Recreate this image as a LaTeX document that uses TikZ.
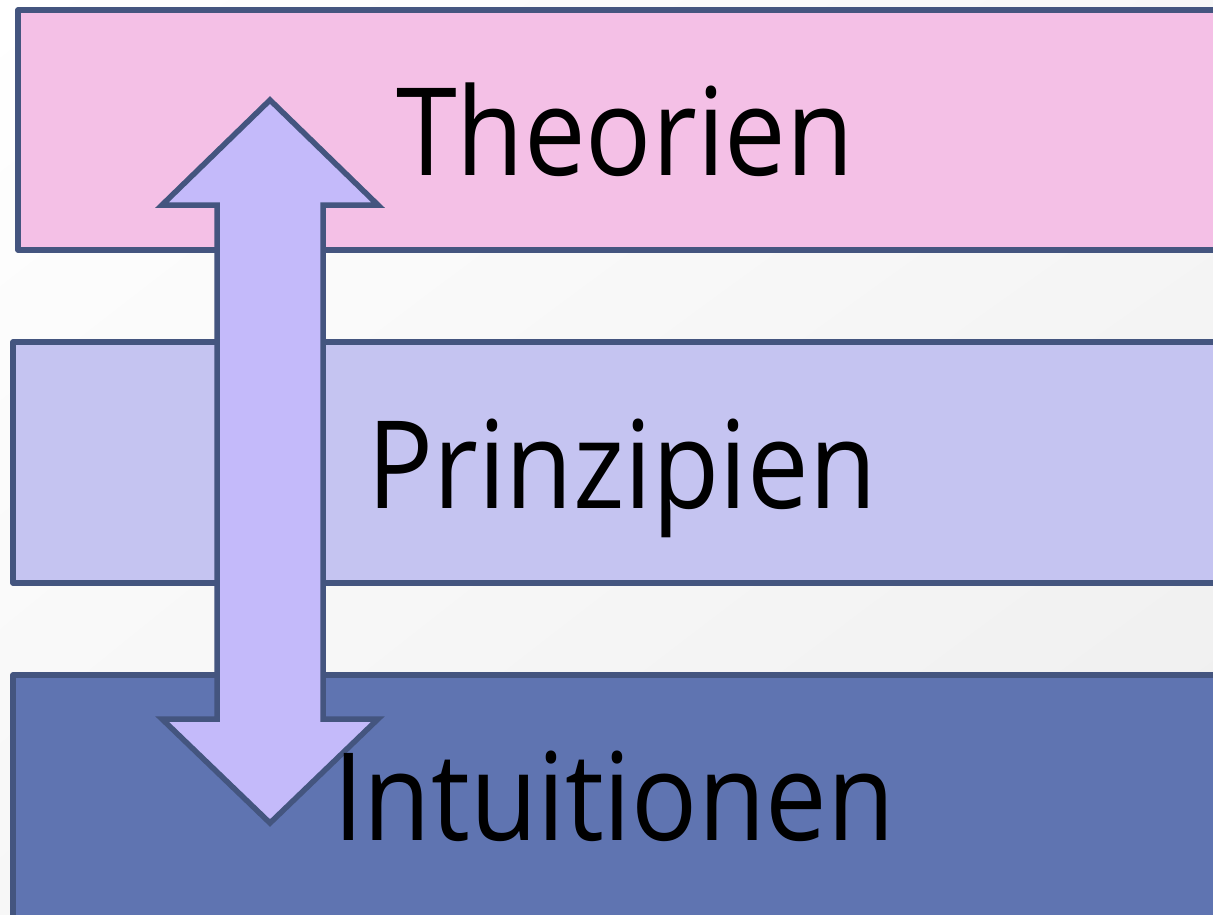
\documentclass[tikz,border=0pt]{standalone}
\usepackage{fontspec}
\setmainfont[FakeStretch=0.9]{Open Sans}
\usetikzlibrary{shadings}
\definecolor{edge}{HTML}{44557F}
\definecolor{pinkband}{HTML}{F4C0E6}
\definecolor{lavband}{HTML}{C5C4F1}
\definecolor{blueband}{HTML}{5F74B1}
\definecolor{arrowfill}{HTML}{C4BAFA}
\definecolor{bgA}{HTML}{FFFFFF}
\definecolor{bgB}{HTML}{F7F7F7}
\definecolor{bgC}{HTML}{EEEEEE}
\tikzset{
  band/.style={draw=edge, line width=5.5pt, line join=round},
  bigarrow/.style={draw=edge, fill=arrowfill, line width=5.5pt, line join=miter},
  label/.style={anchor=base west, inner sep=0pt, font=\fontsize{122}{140}\selectfont, text=black}
}
\begin{document}
\begin{tikzpicture}[x=1pt,y=-1pt]
\useasboundingbox (0,0) rectangle (1213,914);
\clip (0,0) rectangle (1213,914);
\shade[upper left=bgA, upper right=bgB, lower left=bgB, lower right=bgC] (0,0) rectangle (1213,914);
% bands
\draw[band, fill=pinkband] (18,10) rectangle (1240,250);
\draw[band, fill=lavband] (13,342) rectangle (1240,583);
\draw[band, fill=blueband] (13,675) rectangle (1240,930);
% double arrow
\draw[bigarrow] (270,100) -- (378,205) -- (323,205) -- (323,719) -- (378,719)
  -- (270,823) -- (162,719) -- (217,719) -- (217,205) -- (162,205) -- cycle;
% labels
\node[label] (theorien) at (396,175) {Theorien};
\node[label] (prinzipien) at (367,508) {Prinzipien};
\node[label] (intuitionen) at (333,840) {Intuitionen};
\end{tikzpicture}
\end{document}
